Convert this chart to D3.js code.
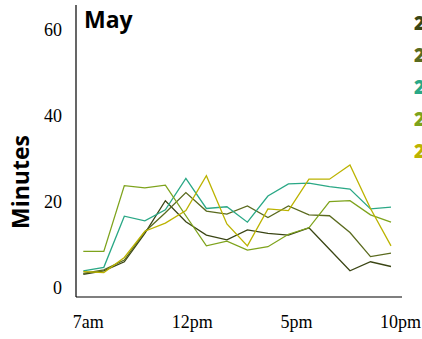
<!DOCTYPE html>
<html>
<head>
<meta charset="utf-8">
<script src="https://cdn.jsdelivr.net/npm/d3@7"></script>
<style>
  body { margin: 0; background: #fff; }
  svg { display: block; }
</style>
</head>
<body>
<svg id="chart" width="422" height="339"></svg>
<script>
// chart data (minutes per hour, 7am..10pm)
var hours = [7, 8, 9, 10, 11, 12, 13, 14, 15, 16, 17, 18, 19, 20, 21, 22];
var series1 = [3.2, 4.0, 6.1, 12.7, 20.3, 15.4, 12.3, 11.2, 13.5, 12.7, 12.3, 14.0, 9.0, 4.0, 6.1, 5.0];
var series2 = [3.4, 4.2, 6.5, 13.1, 17.5, 22.2, 17.9, 17.2, 19.1, 16.4, 19.1, 17.0, 16.8, 12.9, 7.3, 8.1];
var series3 = [4.0, 4.8, 16.7, 15.6, 18.2, 25.5, 18.5, 18.9, 15.3, 21.4, 24.2, 24.4, 23.6, 23.0, 18.4, 18.8];
var series4 = [8.5, 8.5, 23.8, 23.3, 23.9, 16.8, 9.8, 10.9, 8.8, 9.6, 12.5, 14.0, 20.1, 20.3, 17.0, 15.3];
var series5 = [3.8, 3.6, 7.1, 13.2, 15.1, 18.0, 26.1, 14.9, 9.8, 18.4, 18.0, 25.3, 25.3, 28.6, 18.5, 9.8];
var seriesNames = ["2015", "2016", "2017", "2018", "2019"];
var xTicks = [7, 12, 17, 22];
var xTickLabels = ["7am", "12pm", "5pm", "10pm"];
var yTicks = [0, 20, 40, 60];
var title = "May";

var colors = ["#3a4514", "#5a6a1e", "#2aa886", "#7ea31c", "#bcb300"];
var allSeries = [series1, series2, series3, series4, series5];

var svg = d3.select("#chart");

var x = d3.scaleLinear().domain([7, 22]).range([83.3, 391]);
var y = d3.scaleLinear().domain([0, 60]).range([288, 30]);

// axis lines (no tick marks in the original)
svg.append("line")
    .attr("x1", 76).attr("x2", 76)
    .attr("y1", 5).attr("y2", 297)
    .style("stroke", "#000").style("stroke-width", 1.2);
svg.append("line")
    .attr("x1", 76).attr("x2", 402)
    .attr("y1", 297).attr("y2", 297)
    .style("stroke", "#000").style("stroke-width", 1.2);

// y tick labels
svg.selectAll(".ylab").data(yTicks).enter()
    .append("text")
    .attr("class", "ylab")
    .attr("x", 62)
    .attr("y", function (d) { return y(d); })
    .attr("dy", "0.35em")
    .attr("text-anchor", "end")
    .style("font-family", "Liberation Serif")
    .style("font-size", "18px")
    .text(function (d) { return d; });

// x tick labels
svg.selectAll(".xlab").data(xTicks).enter()
    .append("text")
    .attr("class", "xlab")
    .attr("x", function (d, i) { return x(d) + 5 + i * 1.5; })
    .attr("y", 328)
    .attr("text-anchor", "middle")
    .style("font-family", "Liberation Serif")
    .style("font-size", "18px")
    .text(function (d, i) { return xTickLabels[i]; });

// lines
var line = d3.line()
    .x(function (d, i) { return x(hours[i]); })
    .y(function (d) { return y(d); });

svg.selectAll(".series").data(allSeries).enter()
    .append("path")
    .attr("class", "series")
    .attr("d", line)
    .style("fill", "none")
    .style("stroke", function (d, i) { return colors[i]; })
    .style("stroke-width", 1.3);

// title
svg.append("text")
    .attr("x", 84)
    .attr("y", 28)
    .style("font-family", "Open Sans")
    .style("font-weight", "bold")
    .style("font-size", "23px")
    .text(title);

// y axis title
svg.append("text")
    .attr("transform", "translate(29,182)rotate(-90)")
    .attr("text-anchor", "middle")
    .style("font-family", "Open Sans")
    .style("font-weight", "bold")
    .style("font-size", "23px")
    .text("Minutes");

// legend, runs off the right edge like the original
svg.selectAll(".leg").data(seriesNames).enter()
    .append("text")
    .attr("class", "leg")
    .attr("x", 414)
    .attr("y", function (d, i) { return 30 + i * 32; })
    .style("font-family", "Open Sans")
    .style("font-weight", "800")
    .style("font-size", "19px")
    .style("fill", function (d, i) { return colors[i]; })
    .text(function (d) { return d; });
</script>
</body>
</html>
